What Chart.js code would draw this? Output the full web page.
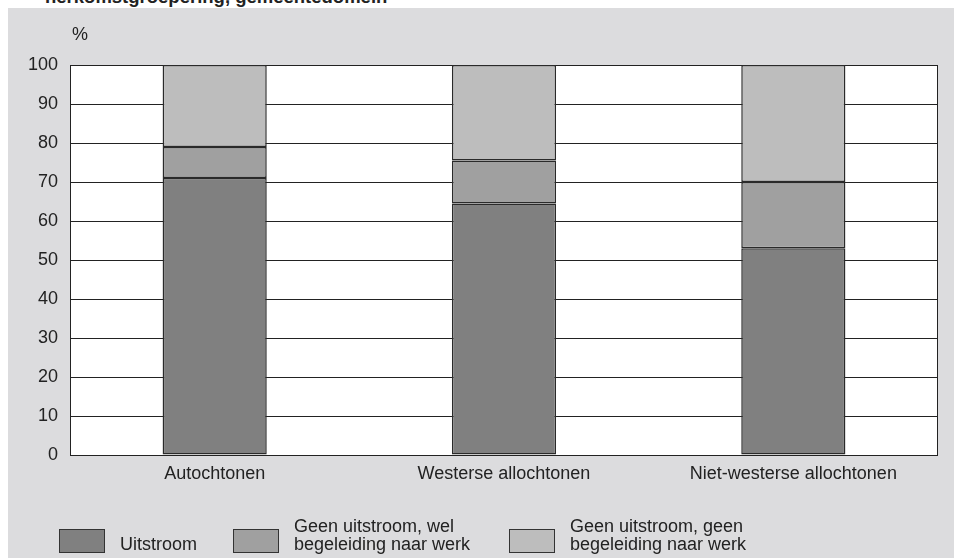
<!DOCTYPE html>
<html>
<head>
<meta charset="utf-8">
<script src="https://cdn.jsdelivr.net/npm/chart.js@4"></script>
<style>
  html, body { margin: 0; padding: 0; background: #ffffff; width: 954px; height: 558px; overflow: hidden; font-family: "Liberation Sans", Arial, sans-serif; color: #222; }
  #title { position: absolute; left: 45px; top: -14px; font-weight: bold; font-size: 18.5px; white-space: nowrap; color: #222; z-index: 0; }
  #bg { position: absolute; left: 8px; top: 8px; width: 946px; height: 550px; background: #dcdcde; z-index: 1; }
  #wrap { position: absolute; left: 0; top: 0; width: 954px; height: 558px; z-index: 2; }
  #pct { position: absolute; left: 72px; top: 24px; font-size: 18px; z-index: 3; }
  .box { position: absolute; box-sizing: border-box; width: 46px; height: 24px; border: 1px solid #333; z-index: 3; }
  .lt { position: absolute; font-size: 18px; line-height: 18px; white-space: nowrap; z-index: 3; color: #222; }
</style>
</head>
<body>
<div id="title">herkomstgroepering, gemeentedomein</div>
<div id="bg"></div>
<div id="wrap"><canvas id="c" width="954" height="558"></canvas></div>
<div id="pct">%</div>
<div id="legend"></div>
<script>
const categories = ["Autochtonen", "Westerse allochtonen", "Niet-westerse allochtonen"];
const seriesNames = ["Uitstroom", "Geen uitstroom, wel begeleiding naar werk", "Geen uitstroom, geen begeleiding naar werk"];
const legendLines = [["Uitstroom"], ["Geen uitstroom, wel", "begeleiding naar werk"], ["Geen uitstroom, geen", "begeleiding naar werk"]];
const uitstroom = [71, 64.5, 53];
const welBegeleiding = [8, 11, 17];
const geenBegeleiding = [21, 24.5, 30];
const yTicks = [0, 10, 20, 30, 40, 50, 60, 70, 80, 90, 100];
const colors = ["#808080", "#a0a0a0", "#bdbdbd"];

// HTML legend
const legendBoxX = [59, 233, 509];
const legendTextX = [120, 294, 570];
const legend = document.getElementById("legend");
legendLines.forEach((lines, i) => {
  const b = document.createElement("div");
  b.className = "box";
  b.style.left = legendBoxX[i] + "px";
  b.style.top = "529px";
  b.style.background = colors[i];
  legend.appendChild(b);
  const t = document.createElement("div");
  t.className = "lt";
  t.style.left = legendTextX[i] + "px";
  t.style.top = (lines.length === 1 ? 535 : 517) + "px";
  t.innerHTML = lines.join("<br>");
  legend.appendChild(t);
});

const borderPlugin = {
  id: "plotBorder",
  beforeDatasetsDraw(chart) {
    const a = chart.chartArea;
    const ctx = chart.ctx;
    ctx.save();
    ctx.strokeStyle = "#222";
    ctx.lineWidth = 1;
    ctx.strokeRect(Math.round(a.left) + 0.5, Math.round(a.top) + 0.5, Math.round(a.right - a.left) - 1, Math.round(a.bottom - a.top));
    ctx.restore();
  }
};
const plotBg = {
  id: "plotBg",
  beforeDraw(chart) {
    const a = chart.chartArea;
    const ctx = chart.ctx;
    ctx.save();
    ctx.fillStyle = "#ffffff";
    ctx.fillRect(a.left, a.top, a.right - a.left, a.bottom - a.top);
    ctx.restore();
  }
};

const values = [uitstroom, welBegeleiding, geenBegeleiding];
new Chart(document.getElementById("c"), {
  type: "bar",
  data: {
    labels: categories,
    datasets: seriesNames.map((n, i) => ({
      label: n,
      data: values[i],
      backgroundColor: colors[i],
      borderColor: "#2a2a2a",
      borderWidth: 1.5,
      borderSkipped: false,
      barPercentage: 0.36,
      categoryPercentage: 1
    }))
  },
  options: {
    responsive: false,
    animation: false,
    devicePixelRatio: 1,
    layout: { padding: { top: 65, right: 16, left: 0, bottom: 0 } },
    plugins: { legend: { display: false }, tooltip: { enabled: false }, title: { display: false } },
    scales: {
      x: {
        stacked: true,
        grid: { display: false, drawTicks: false },
        border: { display: false },
        ticks: { color: "#222", font: { family: "Liberation Sans", size: 18 }, padding: 8, maxRotation: 0 },
        afterFit(s) { s.height = 103; }
      },
      y: {
        stacked: true,
        min: 0,
        max: 100,
        afterBuildTicks(s) { s.ticks = yTicks.map(v => ({ value: v })); },
        grid: { color: "#222", lineWidth: 1, drawTicks: false },
        border: { display: false },
        ticks: { color: "#222", font: { family: "Liberation Sans", size: 18 }, padding: 12, stepSize: 10 },
        afterFit(s) { s.width = 70; }
      }
    }
  },
  plugins: [plotBg, borderPlugin]
});
</script>
</body>
</html>
